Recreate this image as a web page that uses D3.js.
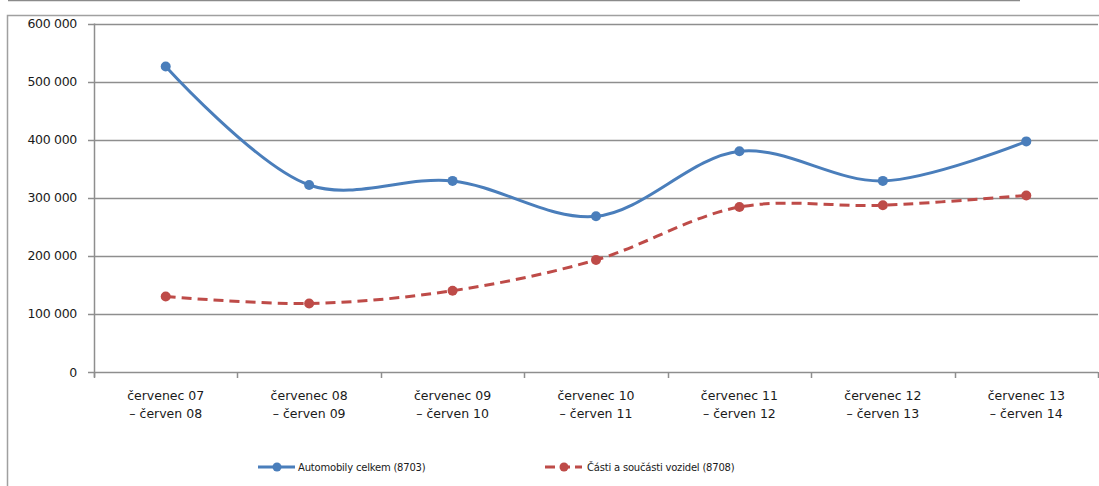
<!DOCTYPE html>
<html>
<head>
<meta charset="utf-8">
<script src="https://cdn.jsdelivr.net/npm/d3@7"></script>
<style>
  body { margin: 0; background: #fff; }
  svg { display: block; }
</style>
</head>
<body>
<svg id="chart" width="1099" height="486"></svg>
<script>
// values
const periods = [
    ["červenec 07", "– červen 08"],
    ["červenec 08", "– červen 09"],
    ["červenec 09", "– červen 10"],
    ["červenec 10", "– červen 11"],
    ["červenec 11", "– červen 12"],
    ["červenec 12", "– červen 13"],
    ["červenec 13", "– červen 14"]
]
const autoValues = [526000, 322000, 329000, 268000, 380000, 329000, 397000]
const partsValues = [130000, 118000, 140000, 193000, 284000, 287000, 304000]
const yTicks = [0, 100000, 200000, 300000, 400000, 500000, 600000]
const seriesNames = ["Automobily celkem (8703)", "Části a součásti vozidel (8708)"]

const blue = "#4a7ebb"
const red = "#be4b48"
const gridColor = "#8e8e8e"
const font = "DejaVu Sans, Verdana, sans-serif"

let svg = d3.select("#chart")

// outer frame bits
svg.append("line")
    .attr("x1", 8).attr("x2", 1020).attr("y1", 0.5).attr("y2", 0.5)
    .attr("stroke", "#8a8a8a").attr("stroke-width", 1.5)
svg.append("path")
    .attr("d", "M7.5,486 V15.5 H1099")
    .attr("fill", "none").attr("stroke", "#a0a0a0").attr("stroke-width", 1.5)

let plotLeft = 94, plotRight = 1098, plotTop = 23.5, plotBottom = 372

let x = d3.scaleBand()
    .domain(d3.range(periods.length))
    .range([plotLeft, plotRight])
let y = d3.scaleLinear()
    .domain([0, 600000])
    .range([plotBottom, plotTop])

function fmt(v) {
    return d3.format(",")(v).replace(/,/g, " ")
}

// gridlines
svg.append("g")
    .selectAll("line")
    .data(yTicks)
    .enter()
    .append("line")
    .attr("x1", plotLeft - 6)
    .attr("x2", plotRight)
    .attr("y1", d => Math.round(y(d)) + 0.5)
    .attr("y2", d => Math.round(y(d)) + 0.5)
    .attr("stroke", gridColor)
    .attr("stroke-width", 1.5)

// y axis line
svg.append("line")
    .attr("x1", plotLeft + 0.5).attr("x2", plotLeft + 0.5)
    .attr("y1", plotTop).attr("y2", plotBottom + 5)
    .attr("stroke", gridColor).attr("stroke-width", 1.5)

// x tick marks at band edges
svg.append("g")
    .selectAll("line")
    .data(d3.range(periods.length + 1))
    .enter()
    .append("line")
    .attr("x1", d => Math.round(plotLeft + d * x.step()) + 0.5)
    .attr("x2", d => Math.round(plotLeft + d * x.step()) + 0.5)
    .attr("y1", plotBottom)
    .attr("y2", plotBottom + 6)
    .attr("stroke", gridColor)
    .attr("stroke-width", 1.5)

// y labels
svg.append("g")
    .selectAll("text")
    .data(yTicks)
    .enter()
    .append("text")
    .attr("x", 77)
    .attr("y", d => y(d) + 4.5)
    .attr("text-anchor", "end")
    .attr("font-family", font)
    .attr("font-size", 12.5)
    .attr("letter-spacing", -0.3)
    .attr("fill", "#1a1a1a")
    .text(d => fmt(d))

// x labels
let xl = svg.append("g")
    .selectAll("text")
    .data(periods)
    .enter()
    .append("text")
    .attr("text-anchor", "middle")
    .attr("font-family", font)
    .attr("font-size", 12.5)
    .attr("fill", "#1a1a1a")
xl.append("tspan")
    .attr("x", (d, i) => x(i) + x.bandwidth() / 2)
    .attr("y", 400)
    .text(d => d[0])
xl.append("tspan")
    .attr("x", (d, i) => x(i) + x.bandwidth() / 2)
    .attr("y", 418)
    .text(d => d[1])

let line = d3.line()
    .x((d, i) => x(i) + x.bandwidth() / 2)
    .y(d => y(d))
    .curve(d3.curveCatmullRom.alpha(0.5))

function drawSeries(values, color, dash) {
    svg.append("path")
        .datum(values)
        .attr("d", line)
        .attr("fill", "none")
        .attr("stroke", color)
        .attr("stroke-width", 3)
        .attr("stroke-dasharray", dash)
    svg.append("g")
        .selectAll("circle")
        .data(values)
        .enter()
        .append("circle")
        .attr("cx", (d, i) => x(i) + x.bandwidth() / 2)
        .attr("cy", d => y(d))
        .attr("r", 5)
        .attr("fill", color)
}

drawSeries(autoValues, blue, null)
drawSeries(partsValues, red, "10,6")

// legend
let legendItems = [
    { name: seriesNames[0], color: blue, dash: null, x0: 258, tx: 298 },
    { name: seriesNames[1], color: red, dash: "10,5", x0: 545, tx: 587 }
]
legendItems.forEach(function (it) {
    svg.append("line")
        .attr("x1", it.x0).attr("x2", it.x0 + 37)
        .attr("y1", 467).attr("y2", 467)
        .attr("stroke", it.color).attr("stroke-width", 3)
        .attr("stroke-dasharray", it.dash)
    svg.append("circle")
        .attr("cx", it.x0 + 19).attr("cy", 467).attr("r", 4.5)
        .attr("fill", it.color)
    svg.append("text")
        .attr("x", it.tx).attr("y", 471)
        .attr("font-family", font)
        .attr("font-size", 10)
        .attr("letter-spacing", -0.2)
        .attr("fill", "#1a1a1a")
        .text(it.name)
})
</script>
</body>
</html>
